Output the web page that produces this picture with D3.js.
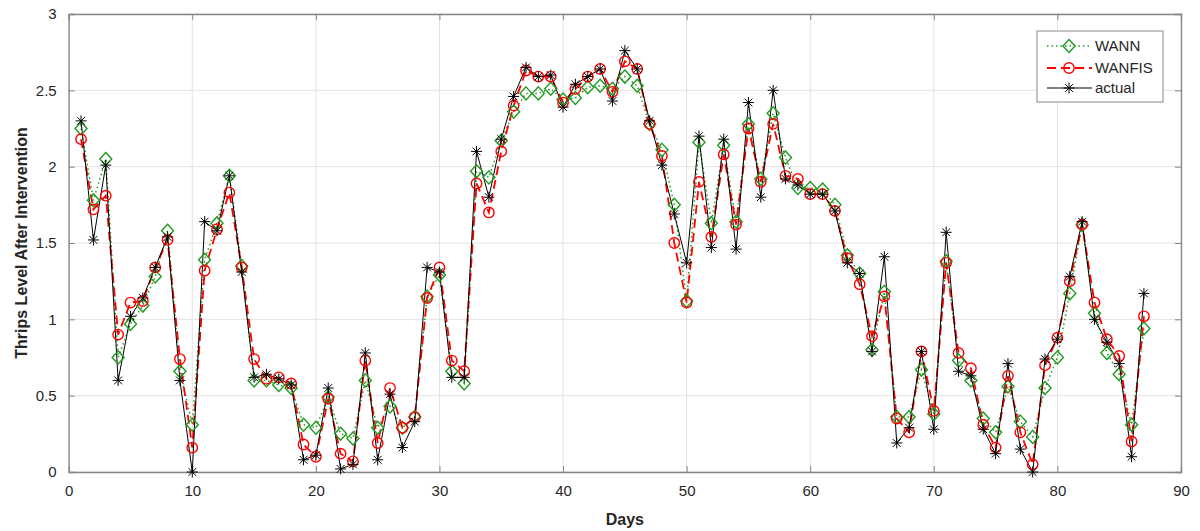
<!DOCTYPE html>
<html><head><meta charset="utf-8">
<script src="https://cdn.jsdelivr.net/npm/d3@7"></script>
<style>body{margin:0;background:#fff;} svg{display:block;font-family:Arial,"Liberation Sans",sans-serif;}</style>
</head><body><svg id="c" width="1200" height="531"></svg>
<script>
const days = d3.range(1, 88);
const wann = [2.25,1.78,2.05,0.75,0.97,1.09,1.28,1.58,0.66,0.31,1.39,1.63,1.94,1.35,0.60,0.60,0.57,0.55,0.31,0.29,0.49,0.25,0.22,0.60,0.29,0.43,0.29,0.36,1.15,1.29,0.66,0.58,1.97,1.93,2.17,2.36,2.48,2.48,2.51,2.44,2.45,2.52,2.53,2.51,2.59,2.53,2.28,2.11,1.75,1.12,2.16,1.63,2.14,1.64,2.28,1.92,2.35,2.06,1.86,1.86,1.85,1.75,1.42,1.30,0.80,1.18,0.36,0.36,0.67,0.38,1.38,0.73,0.60,0.35,0.26,0.56,0.33,0.23,0.55,0.75,1.17,1.62,1.04,0.78,0.64,0.31,0.94];
const wanfis = [2.18,1.72,1.81,0.90,1.11,1.12,1.34,1.52,0.74,0.16,1.32,1.59,1.83,1.34,0.74,0.61,0.62,0.58,0.18,0.10,0.48,0.12,0.07,0.73,0.19,0.55,0.29,0.36,1.14,1.34,0.73,0.66,1.89,1.70,2.10,2.40,2.63,2.59,2.59,2.42,2.51,2.59,2.64,2.49,2.69,2.64,2.28,2.07,1.50,1.11,1.90,1.54,2.08,1.62,2.25,1.90,2.28,1.94,1.92,1.82,1.82,1.71,1.40,1.23,0.89,1.15,0.35,0.26,0.79,0.40,1.37,0.78,0.68,0.31,0.16,0.63,0.26,0.05,0.70,0.88,1.25,1.62,1.11,0.87,0.76,0.20,1.02];
const actual = [2.30,1.52,2.01,0.60,1.02,1.14,1.34,1.54,0.60,0.00,1.64,1.58,1.94,1.31,0.62,0.64,0.61,0.57,0.08,0.11,0.55,0.02,0.05,0.78,0.08,0.51,0.16,0.33,1.34,1.31,0.62,0.62,2.10,1.80,2.18,2.46,2.65,2.59,2.60,2.39,2.54,2.59,2.64,2.43,2.76,2.64,2.30,2.01,1.69,1.37,2.20,1.47,2.18,1.46,2.42,1.80,2.50,1.92,1.88,1.82,1.82,1.71,1.37,1.30,0.79,1.41,0.19,0.29,0.79,0.28,1.57,0.66,0.63,0.28,0.12,0.71,0.15,0.00,0.74,0.87,1.28,1.64,1.00,0.85,0.71,0.10,1.17];
const xTicks = [0,10,20,30,40,50,60,70,80,90];
const yTicks = [0,0.5,1,1.5,2,2.5,3];
const seriesNames = ["WANN","WANFIS","actual"];

const L=68.7, R=1181, T=14, B=472;
const x = d3.scaleLinear().domain([0,90]).range([L,R]);
const y = d3.scaleLinear().domain([0,3]).range([B,T]);
const svg = d3.select("#c");
const axisCol = "#868686", textCol = "#262626";

// grid
const g = svg.append("g");
g.selectAll(".vg").data(xTicks).join("line").attr("x1",d=>x(d)).attr("x2",d=>x(d)).attr("y1",T).attr("y2",B).attr("stroke","#e3e3e3").attr("stroke-width",1);
g.selectAll(".hg").data(yTicks).join("line").attr("y1",d=>y(d)).attr("y2",d=>y(d)).attr("x1",L).attr("x2",R).attr("stroke","#e3e3e3").attr("stroke-width",1);

// axes
const ax = svg.append("g").attr("transform",`translate(0,${B})`).call(d3.axisBottom(x).tickValues(xTicks).tickSize(-6).tickPadding(13).tickFormat(d3.format("d")));
const ay = svg.append("g").attr("transform",`translate(${L},0)`).call(d3.axisLeft(y).tickValues(yTicks).tickSize(-6).tickPadding(12).tickFormat(d=>d));
const axt = svg.append("g").attr("transform",`translate(0,${T})`).call(d3.axisTop(x).tickValues(xTicks).tickSize(-6).tickFormat(""));
const ayr = svg.append("g").attr("transform",`translate(${R},0)`).call(d3.axisRight(y).tickValues(yTicks).tickSize(-6).tickFormat(""));
[ax,ay,axt,ayr].forEach(a=>{a.select(".domain").attr("stroke",axisCol).attr("stroke-width",1.3);a.selectAll(".tick line").attr("stroke",axisCol);a.selectAll("text").attr("fill",textCol).style("font-size","15px").style("font-family","Arial, 'Liberation Sans', sans-serif");});
ax.selectAll(".tick").filter(d=>d===0||d===90).select("line").remove();
ay.selectAll(".tick").filter(d=>d===0||d===3).select("line").remove();

svg.append("text").attr("x",(L+R)/2).attr("y",525).attr("text-anchor","middle").attr("fill",textCol).style("font-weight","bold").style("font-size","16px").text("Days");
svg.append("text").attr("transform",`translate(27,${(T+B)/2}) rotate(-90)`).attr("text-anchor","middle").attr("fill",textCol).style("font-weight","bold").style("font-size","16px").text("Thrips Level After Intervention");

const green="#1f9a1f", red="#ff0000", black="#000";
const line = d3.line().x((d,i)=>x(days[i])).y(d=>y(d));
const plot = svg.append("g");
plot.append("path").datum(wann).attr("d",line).attr("fill","none").attr("stroke",green).attr("stroke-width",1.5).attr("stroke-dasharray","1.5,3");
plot.append("path").datum(wanfis).attr("d",line).attr("fill","none").attr("stroke",red).attr("stroke-width",1.8).attr("stroke-dasharray","9,5");
plot.append("path").datum(actual).attr("d",line).attr("fill","none").attr("stroke",black).attr("stroke-width",1);

function diamond(sel, cx, cy){ sel.append("path").attr("d",`M${cx},${cy-6.5}L${cx+6},${cy}L${cx},${cy+6.5}L${cx-6},${cy}Z`).attr("fill","none").attr("stroke",green).attr("stroke-width",1.4);}
function circ(sel, cx, cy){ sel.append("circle").attr("cx",cx).attr("cy",cy).attr("r",5.2).attr("fill","none").attr("stroke",red).attr("stroke-width",1.4);}
function star(sel, cx, cy){ const r=5.5, s=r*Math.SQRT1_2; sel.append("path").attr("d",`M${cx-r},${cy}H${cx+r}M${cx},${cy-r}V${cy+r}M${cx-s},${cy-s}L${cx+s},${cy+s}M${cx-s},${cy+s}L${cx+s},${cy-s}`).attr("stroke",black).attr("stroke-width",1);}

const mg = plot.append("g");
wann.forEach((v,i)=>diamond(mg,x(days[i]),y(v)));
wanfis.forEach((v,i)=>circ(mg,x(days[i]),y(v)));
actual.forEach((v,i)=>star(mg,x(days[i]),y(v)));

// legend
const lg = svg.append("g");
lg.append("rect").attr("x",1037).attr("y",31).attr("width",126).attr("height",71).attr("fill","#fff").attr("stroke","#8a8a8a").attr("stroke-width",1);
const rows=[46,68,88];
const dashes=["1.5,3","9,5",null], cols=[green,red,black], widths=[1.5,1.8,1];
rows.forEach((ry,i)=>{
  const l=lg.append("line").attr("x1",1047).attr("x2",1092).attr("y1",ry).attr("y2",ry).attr("stroke",cols[i]).attr("stroke-width",widths[i]);
  if(dashes[i]) l.attr("stroke-dasharray",dashes[i]);
  if(i===0) diamond(lg,1069,ry); else if(i===1) circ(lg,1069,ry); else star(lg,1069,ry);
  lg.append("text").attr("x",1095).attr("y",ry+5).attr("fill",textCol).style("font-size","15px").text(seriesNames[i]);
});
</script></body></html>
